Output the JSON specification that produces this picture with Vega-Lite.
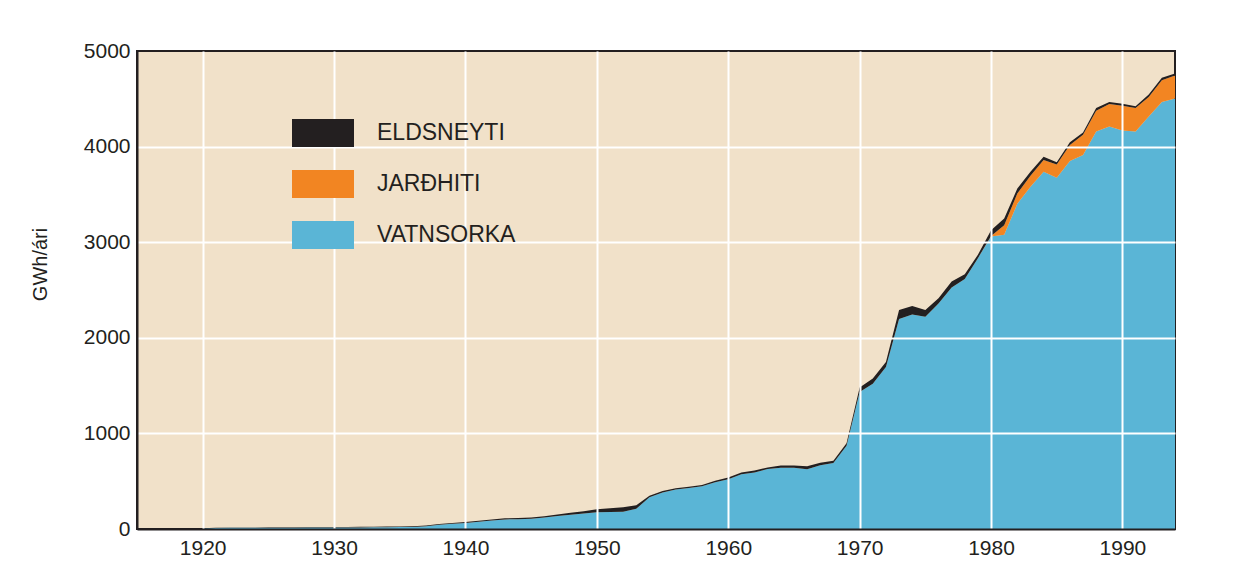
{
  "$schema": "https://vega.github.io/schema/vega-lite/v6.json",
  "width": 1038,
  "height": 478,
  "autosize": {"type": "none"},
  "padding": {"left": 137, "top": 51, "right": 63, "bottom": 46},
  "background": "white",
  "config": {
    "font": "Liberation Sans",
    "view": {"fill": "#f1e1c9", "stroke": "#231f20", "strokeWidth": 2},
    "axisY": {"titleFontSize": 20, "titleFontWeight": "normal", "titleColor": "#231f20"}
  },
  "data": {
    "values": [
      {"year": 1920, "source": "VATNSORKA", "ord": 1, "value": 5},
      {"year": 1921, "source": "VATNSORKA", "ord": 1, "value": 10},
      {"year": 1922, "source": "VATNSORKA", "ord": 1, "value": 12},
      {"year": 1923, "source": "VATNSORKA", "ord": 1, "value": 12},
      {"year": 1924, "source": "VATNSORKA", "ord": 1, "value": 13},
      {"year": 1925, "source": "VATNSORKA", "ord": 1, "value": 13},
      {"year": 1926, "source": "VATNSORKA", "ord": 1, "value": 14},
      {"year": 1927, "source": "VATNSORKA", "ord": 1, "value": 14},
      {"year": 1928, "source": "VATNSORKA", "ord": 1, "value": 15},
      {"year": 1929, "source": "VATNSORKA", "ord": 1, "value": 15},
      {"year": 1930, "source": "VATNSORKA", "ord": 1, "value": 16},
      {"year": 1931, "source": "VATNSORKA", "ord": 1, "value": 16},
      {"year": 1932, "source": "VATNSORKA", "ord": 1, "value": 17},
      {"year": 1933, "source": "VATNSORKA", "ord": 1, "value": 18},
      {"year": 1934, "source": "VATNSORKA", "ord": 1, "value": 19},
      {"year": 1935, "source": "VATNSORKA", "ord": 1, "value": 20},
      {"year": 1936, "source": "VATNSORKA", "ord": 1, "value": 22},
      {"year": 1937, "source": "VATNSORKA", "ord": 1, "value": 30},
      {"year": 1938, "source": "VATNSORKA", "ord": 1, "value": 45},
      {"year": 1939, "source": "VATNSORKA", "ord": 1, "value": 55},
      {"year": 1940, "source": "VATNSORKA", "ord": 1, "value": 62},
      {"year": 1941, "source": "VATNSORKA", "ord": 1, "value": 75},
      {"year": 1942, "source": "VATNSORKA", "ord": 1, "value": 88},
      {"year": 1943, "source": "VATNSORKA", "ord": 1, "value": 100},
      {"year": 1944, "source": "VATNSORKA", "ord": 1, "value": 103},
      {"year": 1945, "source": "VATNSORKA", "ord": 1, "value": 108},
      {"year": 1946, "source": "VATNSORKA", "ord": 1, "value": 120},
      {"year": 1947, "source": "VATNSORKA", "ord": 1, "value": 135},
      {"year": 1948, "source": "VATNSORKA", "ord": 1, "value": 150},
      {"year": 1949, "source": "VATNSORKA", "ord": 1, "value": 162},
      {"year": 1950, "source": "VATNSORKA", "ord": 1, "value": 175},
      {"year": 1951, "source": "VATNSORKA", "ord": 1, "value": 178},
      {"year": 1952, "source": "VATNSORKA", "ord": 1, "value": 181},
      {"year": 1953, "source": "VATNSORKA", "ord": 1, "value": 213},
      {"year": 1954, "source": "VATNSORKA", "ord": 1, "value": 332},
      {"year": 1955, "source": "VATNSORKA", "ord": 1, "value": 383},
      {"year": 1956, "source": "VATNSORKA", "ord": 1, "value": 412},
      {"year": 1957, "source": "VATNSORKA", "ord": 1, "value": 430},
      {"year": 1958, "source": "VATNSORKA", "ord": 1, "value": 447},
      {"year": 1959, "source": "VATNSORKA", "ord": 1, "value": 490},
      {"year": 1960, "source": "VATNSORKA", "ord": 1, "value": 520},
      {"year": 1961, "source": "VATNSORKA", "ord": 1, "value": 572},
      {"year": 1962, "source": "VATNSORKA", "ord": 1, "value": 592},
      {"year": 1963, "source": "VATNSORKA", "ord": 1, "value": 627},
      {"year": 1964, "source": "VATNSORKA", "ord": 1, "value": 642},
      {"year": 1965, "source": "VATNSORKA", "ord": 1, "value": 640},
      {"year": 1966, "source": "VATNSORKA", "ord": 1, "value": 625},
      {"year": 1967, "source": "VATNSORKA", "ord": 1, "value": 668},
      {"year": 1968, "source": "VATNSORKA", "ord": 1, "value": 690},
      {"year": 1969, "source": "VATNSORKA", "ord": 1, "value": 872},
      {"year": 1970, "source": "VATNSORKA", "ord": 1, "value": 1433},
      {"year": 1971, "source": "VATNSORKA", "ord": 1, "value": 1520},
      {"year": 1972, "source": "VATNSORKA", "ord": 1, "value": 1695},
      {"year": 1973, "source": "VATNSORKA", "ord": 1, "value": 2196},
      {"year": 1974, "source": "VATNSORKA", "ord": 1, "value": 2245},
      {"year": 1975, "source": "VATNSORKA", "ord": 1, "value": 2220},
      {"year": 1976, "source": "VATNSORKA", "ord": 1, "value": 2360},
      {"year": 1977, "source": "VATNSORKA", "ord": 1, "value": 2525},
      {"year": 1978, "source": "VATNSORKA", "ord": 1, "value": 2615},
      {"year": 1979, "source": "VATNSORKA", "ord": 1, "value": 2833},
      {"year": 1980, "source": "VATNSORKA", "ord": 1, "value": 3060},
      {"year": 1981, "source": "VATNSORKA", "ord": 1, "value": 3078},
      {"year": 1982, "source": "VATNSORKA", "ord": 1, "value": 3403},
      {"year": 1983, "source": "VATNSORKA", "ord": 1, "value": 3579},
      {"year": 1984, "source": "VATNSORKA", "ord": 1, "value": 3737},
      {"year": 1985, "source": "VATNSORKA", "ord": 1, "value": 3674},
      {"year": 1986, "source": "VATNSORKA", "ord": 1, "value": 3849},
      {"year": 1987, "source": "VATNSORKA", "ord": 1, "value": 3912},
      {"year": 1988, "source": "VATNSORKA", "ord": 1, "value": 4158},
      {"year": 1989, "source": "VATNSORKA", "ord": 1, "value": 4211},
      {"year": 1990, "source": "VATNSORKA", "ord": 1, "value": 4168},
      {"year": 1991, "source": "VATNSORKA", "ord": 1, "value": 4158},
      {"year": 1992, "source": "VATNSORKA", "ord": 1, "value": 4316},
      {"year": 1993, "source": "VATNSORKA", "ord": 1, "value": 4466},
      {"year": 1994, "source": "VATNSORKA", "ord": 1, "value": 4502},

      {"year": 1979, "source": "JARÐHITI", "ord": 2, "value": 0},
      {"year": 1980, "source": "JARÐHITI", "ord": 2, "value": 5},
      {"year": 1981, "source": "JARÐHITI", "ord": 2, "value": 100},
      {"year": 1982, "source": "JARÐHITI", "ord": 2, "value": 106},
      {"year": 1983, "source": "JARÐHITI", "ord": 2, "value": 116},
      {"year": 1984, "source": "JARÐHITI", "ord": 2, "value": 123},
      {"year": 1985, "source": "JARÐHITI", "ord": 2, "value": 140},
      {"year": 1986, "source": "JARÐHITI", "ord": 2, "value": 168},
      {"year": 1987, "source": "JARÐHITI", "ord": 2, "value": 211},
      {"year": 1988, "source": "JARÐHITI", "ord": 2, "value": 217},
      {"year": 1989, "source": "JARÐHITI", "ord": 2, "value": 234},
      {"year": 1990, "source": "JARÐHITI", "ord": 2, "value": 260},
      {"year": 1991, "source": "JARÐHITI", "ord": 2, "value": 245},
      {"year": 1992, "source": "JARÐHITI", "ord": 2, "value": 203},
      {"year": 1993, "source": "JARÐHITI", "ord": 2, "value": 229},
      {"year": 1994, "source": "JARÐHITI", "ord": 2, "value": 242},

      {"year": 1920, "source": "ELDSNEYTI", "ord": 3, "value": 3},
      {"year": 1921, "source": "ELDSNEYTI", "ord": 3, "value": 4},
      {"year": 1922, "source": "ELDSNEYTI", "ord": 3, "value": 4},
      {"year": 1923, "source": "ELDSNEYTI", "ord": 3, "value": 4},
      {"year": 1924, "source": "ELDSNEYTI", "ord": 3, "value": 4},
      {"year": 1925, "source": "ELDSNEYTI", "ord": 3, "value": 5},
      {"year": 1926, "source": "ELDSNEYTI", "ord": 3, "value": 5},
      {"year": 1927, "source": "ELDSNEYTI", "ord": 3, "value": 5},
      {"year": 1928, "source": "ELDSNEYTI", "ord": 3, "value": 5},
      {"year": 1929, "source": "ELDSNEYTI", "ord": 3, "value": 5},
      {"year": 1930, "source": "ELDSNEYTI", "ord": 3, "value": 5},
      {"year": 1931, "source": "ELDSNEYTI", "ord": 3, "value": 5},
      {"year": 1932, "source": "ELDSNEYTI", "ord": 3, "value": 6},
      {"year": 1933, "source": "ELDSNEYTI", "ord": 3, "value": 6},
      {"year": 1934, "source": "ELDSNEYTI", "ord": 3, "value": 6},
      {"year": 1935, "source": "ELDSNEYTI", "ord": 3, "value": 6},
      {"year": 1936, "source": "ELDSNEYTI", "ord": 3, "value": 6},
      {"year": 1937, "source": "ELDSNEYTI", "ord": 3, "value": 6},
      {"year": 1938, "source": "ELDSNEYTI", "ord": 3, "value": 6},
      {"year": 1939, "source": "ELDSNEYTI", "ord": 3, "value": 8},
      {"year": 1940, "source": "ELDSNEYTI", "ord": 3, "value": 10},
      {"year": 1941, "source": "ELDSNEYTI", "ord": 3, "value": 10},
      {"year": 1942, "source": "ELDSNEYTI", "ord": 3, "value": 12},
      {"year": 1943, "source": "ELDSNEYTI", "ord": 3, "value": 12},
      {"year": 1944, "source": "ELDSNEYTI", "ord": 3, "value": 12},
      {"year": 1945, "source": "ELDSNEYTI", "ord": 3, "value": 12},
      {"year": 1946, "source": "ELDSNEYTI", "ord": 3, "value": 14},
      {"year": 1947, "source": "ELDSNEYTI", "ord": 3, "value": 16},
      {"year": 1948, "source": "ELDSNEYTI", "ord": 3, "value": 20},
      {"year": 1949, "source": "ELDSNEYTI", "ord": 3, "value": 24},
      {"year": 1950, "source": "ELDSNEYTI", "ord": 3, "value": 32},
      {"year": 1951, "source": "ELDSNEYTI", "ord": 3, "value": 38},
      {"year": 1952, "source": "ELDSNEYTI", "ord": 3, "value": 46},
      {"year": 1953, "source": "ELDSNEYTI", "ord": 3, "value": 35},
      {"year": 1954, "source": "ELDSNEYTI", "ord": 3, "value": 17},
      {"year": 1955, "source": "ELDSNEYTI", "ord": 3, "value": 14},
      {"year": 1956, "source": "ELDSNEYTI", "ord": 3, "value": 13},
      {"year": 1957, "source": "ELDSNEYTI", "ord": 3, "value": 13},
      {"year": 1958, "source": "ELDSNEYTI", "ord": 3, "value": 13},
      {"year": 1959, "source": "ELDSNEYTI", "ord": 3, "value": 15},
      {"year": 1960, "source": "ELDSNEYTI", "ord": 3, "value": 20},
      {"year": 1961, "source": "ELDSNEYTI", "ord": 3, "value": 20},
      {"year": 1962, "source": "ELDSNEYTI", "ord": 3, "value": 20},
      {"year": 1963, "source": "ELDSNEYTI", "ord": 3, "value": 17},
      {"year": 1964, "source": "ELDSNEYTI", "ord": 3, "value": 22},
      {"year": 1965, "source": "ELDSNEYTI", "ord": 3, "value": 24},
      {"year": 1966, "source": "ELDSNEYTI", "ord": 3, "value": 32},
      {"year": 1967, "source": "ELDSNEYTI", "ord": 3, "value": 24},
      {"year": 1968, "source": "ELDSNEYTI", "ord": 3, "value": 24},
      {"year": 1969, "source": "ELDSNEYTI", "ord": 3, "value": 24},
      {"year": 1970, "source": "ELDSNEYTI", "ord": 3, "value": 48},
      {"year": 1971, "source": "ELDSNEYTI", "ord": 3, "value": 55},
      {"year": 1972, "source": "ELDSNEYTI", "ord": 3, "value": 53},
      {"year": 1973, "source": "ELDSNEYTI", "ord": 3, "value": 94},
      {"year": 1974, "source": "ELDSNEYTI", "ord": 3, "value": 87},
      {"year": 1975, "source": "ELDSNEYTI", "ord": 3, "value": 70},
      {"year": 1976, "source": "ELDSNEYTI", "ord": 3, "value": 53},
      {"year": 1977, "source": "ELDSNEYTI", "ord": 3, "value": 63},
      {"year": 1978, "source": "ELDSNEYTI", "ord": 3, "value": 50},
      {"year": 1979, "source": "ELDSNEYTI", "ord": 3, "value": 35},
      {"year": 1980, "source": "ELDSNEYTI", "ord": 3, "value": 60},
      {"year": 1981, "source": "ELDSNEYTI", "ord": 3, "value": 70},
      {"year": 1982, "source": "ELDSNEYTI", "ord": 3, "value": 52},
      {"year": 1983, "source": "ELDSNEYTI", "ord": 3, "value": 42},
      {"year": 1984, "source": "ELDSNEYTI", "ord": 3, "value": 35},
      {"year": 1985, "source": "ELDSNEYTI", "ord": 3, "value": 22},
      {"year": 1986, "source": "ELDSNEYTI", "ord": 3, "value": 29},
      {"year": 1987, "source": "ELDSNEYTI", "ord": 3, "value": 24},
      {"year": 1988, "source": "ELDSNEYTI", "ord": 3, "value": 28},
      {"year": 1989, "source": "ELDSNEYTI", "ord": 3, "value": 21},
      {"year": 1990, "source": "ELDSNEYTI", "ord": 3, "value": 20},
      {"year": 1991, "source": "ELDSNEYTI", "ord": 3, "value": 20},
      {"year": 1992, "source": "ELDSNEYTI", "ord": 3, "value": 25},
      {"year": 1993, "source": "ELDSNEYTI", "ord": 3, "value": 24},
      {"year": 1994, "source": "ELDSNEYTI", "ord": 3, "value": 20}
    ]
  },
  "mark": {"type": "area", "interpolate": "linear"},
  "encoding": {
    "x": {
      "field": "year",
      "type": "quantitative",
      "scale": {"domain": [1915, 1994], "nice": false, "zero": false},
      "axis": {
        "values": [1920, 1930, 1940, 1950, 1960, 1970, 1980, 1990],
        "format": "d",
        "title": null,
        "grid": true,
        "gridColor": "white",
        "gridWidth": 2,
        "gridOpacity": 1,
        "ticks": false,
        "domain": true,
        "domainColor": "#231f20",
        "domainWidth": 2,
        "labelFontSize": 21,
        "labelColor": "#231f20",
        "labelPadding": 8,
        "zindex": 1
      }
    },
    "y": {
      "field": "value",
      "type": "quantitative",
      "stack": "zero",
      "scale": {"domain": [0, 5000], "nice": false},
      "axis": {
        "values": [0, 1000, 2000, 3000, 4000, 5000],
        "format": "d",
        "title": "GWh/ári",
        "titleFontSize": 20,
        "titleFontWeight": "normal",
        "titleColor": "#231f20",
        "titleAngle": 270,
        "titleAlign": "center",
        "titleX": -97,
        "titleY": 213,
        "titleBaseline": "middle",
        "grid": true,
        "gridColor": "white",
        "gridWidth": 2,
        "gridOpacity": {"condition": {"test": "datum.value == 0 || datum.value == 5000", "value": 0}, "value": 1},
        "ticks": false,
        "domain": true,
        "domainColor": "#231f20",
        "domainWidth": 2,
        "labelFontSize": 21,
        "labelColor": "#231f20",
        "labelPadding": 7,
        "zindex": 1
      }
    },
    "color": {
      "field": "source",
      "type": "nominal",
      "scale": {
        "domain": ["ELDSNEYTI", "JARÐHITI", "VATNSORKA"],
        "range": ["#231f20", "#f28522", "#5ab5d6"]
      },
      "legend": {
        "orient": "none",
        "legendX": 155,
        "legendY": 51,
        "zindex": 3,
        "title": null,
        "direction": "vertical",
        "symbolType": "M-1,-0.45H1V0.45H-1Z",
        "symbolSize": 3844,
        "symbolStrokeWidth": 0,
        "symbolOpacity": 1,
        "labelFontSize": 23,
        "labelColor": "#231f20",
        "labelOffset": 23,
        "rowPadding": 6
      }
    },
    "order": {"field": "ord", "type": "quantitative"}
  }
}
